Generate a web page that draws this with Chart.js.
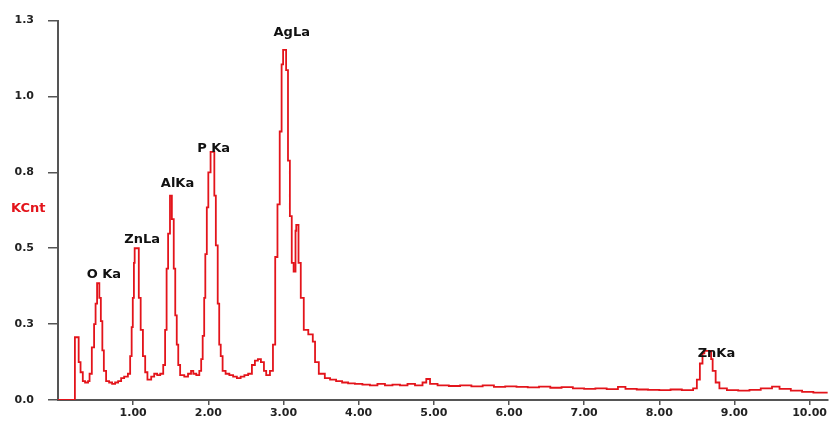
<!DOCTYPE html>
<html>
<head>
<meta charset="utf-8">
<script src="https://cdn.jsdelivr.net/npm/chart.js@4.4.0/dist/chart.umd.min.js"></script>
<style>
  html, body { margin: 0; padding: 0; background: #fff; }
</style>
</head>
<body>
<canvas id="eds" width="829" height="421"></canvas>
<script>
// EDS spectrum, energy in keV, counts in KCnt (step starts at each energy)
const energy = [
  0.00, 0.225, 0.275, 0.30, 0.33, 0.36, 0.40, 0.42, 0.45, 0.48, 0.50, 0.52, 0.55, 0.57, 0.59, 0.61,
  0.64, 0.68, 0.72, 0.76, 0.80, 0.84, 0.88, 0.93, 0.96, 0.98, 0.995, 1.01, 1.02, 1.075, 1.10, 1.13,
  1.16, 1.19, 1.24, 1.28, 1.32, 1.36, 1.40, 1.425, 1.445, 1.465, 1.49, 1.515, 1.54, 1.56, 1.58, 1.60,
  1.625, 1.68, 1.73, 1.77, 1.80, 1.84, 1.88, 1.905, 1.925, 1.945, 1.96, 1.98, 2.00, 2.03, 2.08, 2.10,
  2.125, 2.145, 2.165, 2.19, 2.23, 2.28, 2.33, 2.38, 2.43, 2.48, 2.53, 2.58, 2.62, 2.66, 2.70, 2.74,
  2.77, 2.82, 2.86, 2.89, 2.92, 2.95, 2.975, 2.995, 3.035, 3.06, 3.085, 3.11, 3.135, 3.16, 3.17, 3.20,
  3.23, 3.27, 3.33, 3.39, 3.42, 3.47, 3.55, 3.62, 3.70, 3.78, 3.86, 3.95, 4.05, 4.15, 4.25, 4.35,
  4.45, 4.55, 4.65, 4.75, 4.85, 4.90, 4.95, 5.05, 5.20, 5.35, 5.50, 5.65, 5.80, 5.95, 6.10, 6.25,
  6.40, 6.55, 6.70, 6.85, 7.00, 7.15, 7.30, 7.45, 7.55, 7.70, 7.85, 8.00, 8.15, 8.30, 8.45, 8.50,
  8.54, 8.575, 8.60, 8.69, 8.71, 8.75, 8.80, 8.90, 9.05, 9.20, 9.35, 9.50, 9.60, 9.75, 9.90, 10.05,
  10.24
];
const kcnt = [
  0.00, 0.215, 0.13, 0.095, 0.065, 0.06, 0.065, 0.09, 0.18, 0.26, 0.33, 0.40, 0.35, 0.27, 0.17, 0.10,
  0.065, 0.06, 0.055, 0.06, 0.065, 0.075, 0.08, 0.09, 0.15, 0.25, 0.35, 0.47, 0.52, 0.35, 0.24, 0.15,
  0.095, 0.07, 0.08, 0.09, 0.085, 0.09, 0.12, 0.24, 0.45, 0.57, 0.70, 0.62, 0.45, 0.29, 0.19, 0.12,
  0.085, 0.08, 0.09, 0.10, 0.09, 0.085, 0.10, 0.14, 0.22, 0.35, 0.50, 0.66, 0.78, 0.85, 0.70, 0.53,
  0.33, 0.19, 0.15, 0.10, 0.09, 0.085, 0.08, 0.075, 0.08, 0.085, 0.09, 0.12, 0.135, 0.14, 0.13, 0.10,
  0.085, 0.10, 0.19, 0.49, 0.67, 0.92, 1.15, 1.20, 1.13, 0.82, 0.63, 0.47, 0.44, 0.58, 0.60, 0.47,
  0.35, 0.24, 0.225, 0.20, 0.13, 0.09, 0.075, 0.07, 0.065, 0.06, 0.057, 0.055, 0.053, 0.05, 0.055, 0.05,
  0.053, 0.05, 0.055, 0.05, 0.06, 0.072, 0.055, 0.05, 0.048, 0.05, 0.047, 0.05, 0.045, 0.047, 0.045, 0.043,
  0.046, 0.042, 0.044, 0.04, 0.038, 0.04, 0.037, 0.045, 0.038, 0.036, 0.035, 0.034, 0.036, 0.034, 0.04, 0.07,
  0.125, 0.16, 0.168, 0.14, 0.10, 0.06, 0.04, 0.034, 0.032, 0.035, 0.04, 0.046, 0.038, 0.032, 0.028, 0.025,
  0.022
];
const xTicks = [1, 2, 3, 4, 5, 6, 7, 8, 9, 10];
const yTicks = [0, 0.26, 0.52, 0.78, 1.04, 1.3];
const yTickLabels = ['0.0', '0.3', '0.5', '0.8', '1.0', '1.3'];
const peakNames = ['O Ka', 'ZnLa', 'AlKa', 'P Ka', 'AgLa', 'ZnKa'];
const peakE = [0.61, 1.12, 1.59, 2.07, 3.11, 8.76];
const peakLevel = [0.43, 0.55, 0.74, 0.86, 1.26, 0.16];

const tickFont = { family: '"DejaVu Sans", sans-serif', size: 11, weight: 'bold' };

// peak names and the KCnt unit label
const peakLabels = {
  id: 'peakLabels',
  afterDraw(chart) {
    const c = chart.ctx;
    const xs = chart.scales.x, ys = chart.scales.y;
    c.save();
    c.font = 'bold 13px "DejaVu Sans", sans-serif';
    c.fillStyle = '#111';
    c.textAlign = 'center';
    c.textBaseline = 'middle';
    peakNames.forEach((name, i) => {
      c.fillText(name, xs.getPixelForValue(peakE[i]), ys.getPixelForValue(peakLevel[i]));
    });
    c.font = 'bold 13px "DejaVu Sans", sans-serif';
    c.fillStyle = '#e3141b';
    c.textAlign = 'left';
    const area = chart.chartArea;
    c.fillText('KCnt', 11, (area.top + area.bottom) / 2 - 2);
    c.restore();
  }
};

new Chart(document.getElementById('eds'), {
  type: 'line',
  data: {
    datasets: [{
      data: energy.map((e, i) => ({ x: e, y: kcnt[i] })),
      stepped: 'before',
      borderColor: '#e3141b',
      borderWidth: 1.8,
      pointRadius: 0,
      fill: false
    }]
  },
  options: {
    responsive: false,
    animation: false,
    devicePixelRatio: 1,
    layout: { padding: { top: 20, right: 0, bottom: 0, left: 0 } },
    plugins: { legend: { display: false }, tooltip: { enabled: false } },
    scales: {
      x: {
        type: 'linear',
        min: 0,
        max: 10.24,
        border: { display: true, color: '#555', width: 2 },
        grid: { drawOnChartArea: false, drawTicks: true, tickLength: 5, color: '#555', lineWidth: 1.5 },
        ticks: {
          font: tickFont, color: '#222', padding: 2, maxRotation: 0, autoSkip: false,
          callback: v => v.toFixed(2)
        },
        afterBuildTicks: s => { s.ticks = xTicks.map(v => ({ value: v })); },
        afterFit: s => { s.height = 21; }
      },
      y: {
        min: 0,
        max: 1.3,
        border: { display: true, color: '#555', width: 2 },
        grid: { drawOnChartArea: false, drawTicks: true, tickLength: 10, color: '#555', lineWidth: 1.5 },
        ticks: {
          font: tickFont, color: '#222', padding: 14,
          callback: (v, i) => yTickLabels[i]
        },
        afterBuildTicks: s => { s.ticks = yTicks.map(v => ({ value: v })); },
        afterFit: s => { s.width = 58; }
      }
    }
  },
  plugins: [peakLabels]
});
</script>
</body>
</html>
